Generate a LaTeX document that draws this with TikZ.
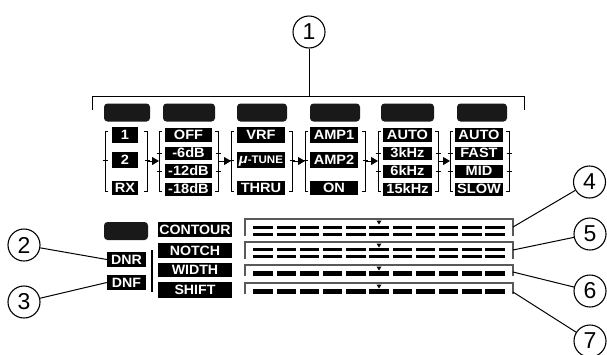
\documentclass[tikz,border=0pt]{standalone}
\usepackage{fontspec}
\setmainfont{Liberation Sans}
\newfontfamily\lblfont[FakeStretch=1.08]{Liberation Sans}
\newfontfamily\lowfont[FakeStretch=1.05]{Liberation Sans}
\usetikzlibrary{arrows.meta}
\begin{document}
\begin{tikzpicture}[x=1pt,y=-1pt,
  lbl/.style={fill=black, text=white, inner sep=0pt, text depth=0pt,
    font=\lblfont\bfseries\fontsize{13.5}{13.5}\selectfont},
  lowlbl/.style={lbl, font=\lowfont\bfseries\fontsize{13.5}{13.5}\selectfont},
  dark/.style={fill=black!90, rounded corners=3.5pt, inner sep=0pt},
  num/.style={circle, draw, line width=1.1pt, minimum size=32pt, inner sep=0pt,
    font=\fontsize{23}{23}\selectfont},
  brk/.style={line width=1pt},
  arr/.style={line width=1pt, -{Triangle[length=7pt,width=8pt]}},
  lead/.style={line width=1pt},
  frm/.style={draw=black!65, line width=1.3pt},
]
\useasboundingbox (0,0) rectangle (607,354);

% ---- callout 1 and top bracket
\node[num] (c1) at (309,32) {1};
\coordinate (tb) at (309,96);
\draw[lead] (c1) -- (tb);
\draw[lead] (92,110) -- (92,96) -- (524,96) -- (524,110);

% ---- dark display boxes on top
\node[dark, minimum width=46pt, minimum height=18pt] (d1) at (127,112.5) {};
\node[dark, minimum width=52pt, minimum height=18pt] (d2) at (189,112.5) {};
\node[dark, minimum width=50pt, minimum height=18pt] (d3) at (262,112.5) {};
\node[dark, minimum width=50pt, minimum height=18pt] (d4) at (335,112.5) {};
\node[dark, minimum width=53pt, minimum height=18pt] (d5) at (407.5,112.5) {};
\node[dark, minimum width=50pt, minimum height=18pt] (d6) at (482,112.5) {};

% ---- group 1
\node[lbl, minimum width=26pt, minimum height=16pt] (g1a) at (125,135) {1};
\node[lbl, minimum width=26pt, minimum height=16pt] (g1b) at (125,160) {2};
\node[lbl, minimum width=26pt, minimum height=14pt] (g1c) at (125,188) {RX};
% ---- group 2
\node[lbl, minimum width=47pt, minimum height=14pt] (g2a) at (188.5,134.5) {OFF};
\node[lbl, minimum width=47pt, minimum height=13pt] (g2b) at (188.5,153) {-6dB};
\node[lbl, minimum width=47pt, minimum height=14pt] (g2c) at (188.5,171) {-12dB};
\node[lbl, minimum width=47pt, minimum height=13pt] (g2d) at (188.5,189) {-18dB};
% ---- group 3
\node[lbl, minimum width=48pt, minimum height=16pt] (g3a) at (261,135) {VRF};
\node[lbl, minimum width=48pt, minimum height=16pt] (g3b) at (261,160) {{\itshape μ}{\lowfont\fontsize{11}{11}\selectfont-TUNE}};
\node[lbl, minimum width=48pt, minimum height=14pt] (g3c) at (261,188) {THRU};
% ---- group 4
\node[lbl, minimum width=48pt, minimum height=16pt] (g4a) at (334,135) {AMP1};
\node[lbl, minimum width=48pt, minimum height=16pt] (g4b) at (334,160) {AMP2};
\node[lbl, minimum width=48pt, minimum height=14pt] (g4c) at (334,188) {ON};
% ---- group 5
\node[lbl, minimum width=49pt, minimum height=14pt] (g5a) at (407.5,134.5) {AUTO};
\node[lbl, minimum width=49pt, minimum height=13pt] (g5b) at (407.5,153) {3kHz};
\node[lbl, minimum width=49pt, minimum height=13pt] (g5c) at (407.5,171) {6kHz};
\node[lbl, minimum width=49pt, minimum height=13pt] (g5d) at (407.5,189) {15kHz};
% ---- group 6
\node[lbl, minimum width=48pt, minimum height=14pt] (g6a) at (479,134.5) {AUTO};
\node[lbl, minimum width=48pt, minimum height=13pt] (g6b) at (479,153) {FAST};
\node[lbl, minimum width=48pt, minimum height=13pt] (g6c) at (479,171) {MID};
\node[lbl, minimum width=48pt, minimum height=13pt] (g6d) at (479,189) {SLOW};

% ---- brackets
\foreach \L/\R/\ticks in {105/147/{160}, 159/218/{153,171}, 231/292/{160},
                          305/365/{160}, 378/438/{153,171}, 450/509/{153,171}} {
  \draw[brk] (\L+3,131) -- (\L,131) -- (\L,191) -- (\L+3,191);
  \draw[brk] (\R-3,131) -- (\R,131) -- (\R,191) -- (\R-3,191);
  \foreach \t in \ticks {
    \draw[brk] (\L-2.5,\t) -- (\L+2.5,\t);
    \draw[brk] (\R-2.5,\t) -- (\R+2.5,\t);
  }
}

% ---- arrows between groups
\coordinate (r1) at (147,161); \coordinate (l2) at (159,161);
\coordinate (r2) at (218,161); \coordinate (l3) at (231,161);
\coordinate (r3) at (292,161); \coordinate (l4) at (305,161);
\coordinate (r4) at (365,161); \coordinate (l5) at (378,161);
\coordinate (r5) at (438,161); \coordinate (l6) at (450,161);
\draw[arr] (r1) -- (l2);
\draw[arr] (r2) -- (l3);
\draw[arr] (r3) -- (l4);
\draw[arr] (r4) -- (l5);
\draw[arr] (r5) -- (l6);

% ---- bottom left
\node[dark, minimum width=44pt, minimum height=18pt] (d7) at (126,231) {};
\node[lowlbl, minimum width=74pt, minimum height=15pt] (contour) at (195,229.5) {CONTOUR};
\node[lowlbl, minimum width=74pt, minimum height=15pt] (notch) at (195,250.5) {NOTCH};
\node[lowlbl, minimum width=74pt, minimum height=14pt] (width) at (195,270) {WIDTH};
\node[lowlbl, minimum width=74pt, minimum height=16pt] (shift) at (195,290) {SHIFT};
\node[lowlbl, minimum width=39pt, minimum height=15pt] (dnr) at (126.5,259.5) {DNR};
\node[lowlbl, minimum width=39pt, minimum height=15pt] (dnf) at (126.5,282.5) {DNF};
\draw[line width=1.6pt] (152,250) -- (152,292);

\node[num] (c2) at (24,245) {2};
\node[num] (c3) at (24,302) {3};
\draw[lead] (c2) -- (dnr.west);
\draw[lead] (c3) -- (dnf.west);

% ---- bar frames
\foreach \yt/\yb in {219/236, 242/259, 265/276, 283/294} {
  \draw[frm] (245,\yb) -- (245,\yt) -- (513,\yt) -- (513,\yb);
  \fill (376.5,\yt+1.5) -- (381.5,\yt+1.5) -- (379,\yt+5.5) -- cycle;
}
\foreach \i in {0,...,10} {
  \fill (253.3+23.2*\i,226) rectangle ++(19.5,3);
  \fill (253.3+23.2*\i,232.8) rectangle ++(19.5,3);
  \fill (253.3+23.2*\i,247.8) rectangle ++(19.5,3);
  \fill (253.3+23.2*\i,254.5) rectangle ++(19.5,3);
  \fill (253.3+23.2*\i,270.7) rectangle ++(19.5,5);
  \fill (253.3+23.2*\i,288.5) rectangle ++(19.5,5.3);
}

% ---- right callouts
\coordinate (f1) at (513,227);
\coordinate (f2) at (513,250);
\coordinate (f3) at (513,272);
\coordinate (f4) at (513,292);
\node[num] (c4) at (589.5,182) {4};
\node[num] (c5) at (590,234) {5};
\node[num] (c6) at (590,291) {6};
\node[num] (c7) at (590,341) {7};
\draw[lead] (f1) -- (c4);
\draw[lead] (f2) -- (c5);
\draw[lead] (f3) -- (c6);
\draw[lead] (f4) -- (c7);
\end{tikzpicture}
\end{document}
